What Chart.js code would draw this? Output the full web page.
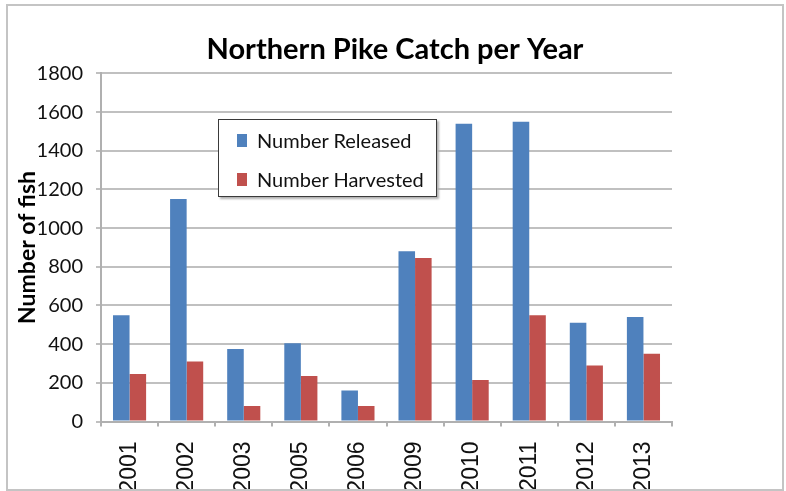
<!DOCTYPE html>
<html>
<head>
<meta charset="utf-8">
<script src="https://cdn.jsdelivr.net/npm/chart.js@4.4.1/dist/chart.umd.min.js"></script>
<style>
  body { margin: 0; background: #fff; }
  #frame { position: absolute; left: 6px; top: 4px; width: 774px; height: 483px; border: 2px solid #c4c4c4; overflow: hidden; }
  #box { position: absolute; left: 0; top: 0; width: 774px; height: 520px; }
  #legend { position: absolute; left: 210px; top: 113px; width: 217px; height: 76px; border: 1px solid #3a3a3a; box-shadow: 2px 2px 2px #b0b0b0; background: #fff; font-family: Lato, sans-serif; font-size: 20px; color: #111; }
  #legend .row { position: absolute; left: 18px; height: 22px; display: flex; align-items: center; white-space: nowrap; }
  #legend .sw { width: 10px; height: 13px; margin-right: 10px; }
</style>
</head>
<body>
<div id="frame">
  <div id="box"><canvas id="chart-pike"></canvas></div>
  <div id="legend"></div>
</div>
<script>
const years = ['2001', '2002', '2003', '2005', '2006', '2009', '2010', '2011', '2012', '2013'];
const released = [550, 1150, 375, 405, 160, 880, 1540, 1550, 510, 540];
const harvested = [245, 310, 80, 235, 80, 845, 215, 550, 290, 350];
const yTicks = [0, 200, 400, 600, 800, 1000, 1200, 1400, 1600, 1800];

// legend drawn as html box inside the chart frame
const htmlLegend = {
    id: 'htmlLegend',
    afterUpdate(chart) {
        let box = document.getElementById('legend');
        box.innerHTML = '';
        chart.data.datasets.forEach(function (ds, i) {
            let row = document.createElement('div');
            row.className = 'row';
            row.style.top = (9 + i * 39) + 'px';
            let sw = document.createElement('span');
            sw.className = 'sw';
            sw.style.background = ds.backgroundColor;
            let txt = document.createElement('span');
            txt.textContent = ds.label;
            row.appendChild(sw);
            row.appendChild(txt);
            box.appendChild(row);
        });
    }
};

new Chart(document.getElementById('chart-pike'), {
    type: 'bar',
    data: {
        labels: years,
        datasets: [
            { label: 'Number Released', data: released, backgroundColor: '#4F81BD' },
            { label: 'Number Harvested', data: harvested, backgroundColor: '#C0504D' }
        ]
    },
    options: {
        responsive: true,
        maintainAspectRatio: false,
        animation: false,
        datasets: { bar: { categoryPercentage: 0.58, barPercentage: 1 } },
        layout: { padding: 0 },
        plugins: {
            legend: { display: false },
            tooltip: { enabled: false },
            title: {
                display: true,
                text: 'Northern Pike Catch per Year',
                color: '#000',
                font: { family: 'Lato', size: 29, weight: 'bold' },
                padding: { top: 26, bottom: 6.6 }
            }
        },
        scales: {
            x: {
                grid: { drawOnChartArea: false, color: '#b0b0b0', lineWidth: 2, tickLength: 5 },
                border: { color: '#b0b0b0', width: 2 },
                ticks: {
                    color: '#111',
                    font: { family: 'Liberation Sans', size: 23 },
                    minRotation: 90,
                    maxRotation: 90,
                    autoSkip: false,
                    padding: 15
                },
                afterFit: function (scale) { scale.height = 104.5; }
            },
            y: {
                min: 0,
                max: 1800,
                afterBuildTicks: function (scale) { scale.ticks = yTicks.map(v => ({ value: v })); },
                grid: { color: '#c0c0c0', lineWidth: 2, tickLength: 5 },
                border: { color: '#b0b0b0', width: 2 },
                ticks: {
                    color: '#111',
                    font: { family: 'Lato', size: 20 },
                    padding: 13,
                    callback: v => String(v)
                },
                title: {
                    display: true,
                    text: 'Number of fish',
                    color: '#000',
                    font: { family: 'Lato', size: 23, weight: 'bold' },
                    padding: { top: 6, bottom: 0 }
                },
                afterFit: function (scale) { scale.width = 93; }
            },
            // empty space on the right side of the plot
            yRight: {
                position: 'right',
                display: true,
                grid: { display: false },
                border: { display: false },
                ticks: { display: false },
                afterFit: function (scale) { scale.width = 110; }
            }
        }
    },
    plugins: [htmlLegend]
});
</script>
</body>
</html>
